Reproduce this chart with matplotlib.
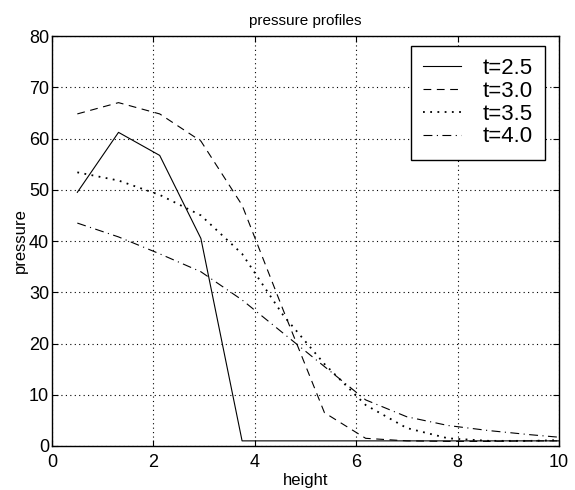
import matplotlib
matplotlib.use("Agg")
import matplotlib.pyplot as plt

plt.rcParams["font.family"] = ["Liberation Sans", "DejaVu Sans"]

# Sample heights and pressure values.
height = [0.5, 1.3125, 2.125, 2.9375, 3.75, 4.5625, 5.375, 6.1875,
          7.0, 7.8125, 8.625, 9.4375, 10.25]
p_t25 = [49.5, 61.2, 56.7, 40.5, 1.0, 1.0, 1.0, 1.0, 1.0, 1.0, 1.0, 1.0, 1.0]
p_t30 = [64.8, 67.0, 64.8, 59.5, 47.0, 26.5, 6.5, 1.5, 1.0, 0.9, 0.9, 1.0, 1.0]
p_t35 = [53.4, 51.8, 49.0, 45.0, 37.5, 25.5, 16.0, 8.0, 3.5, 1.5, 1.0, 1.0, 1.2]
p_t40 = [43.5, 40.8, 37.5, 34.0, 28.5, 22.0, 15.5, 9.0, 5.7, 4.0, 3.0, 2.2, 1.5]
labels = ["t=2.5", "t=3.0", "t=3.5", "t=4.0"]

fig = plt.figure(figsize=(5.75, 4.9), dpi=100)
ax = fig.add_axes([0.0904, 0.0898, 0.8816, 0.8367])

lw = 0.8
ax.plot(height, p_t25, color="black", linestyle="-", linewidth=lw, label=labels[0])
ax.plot(height, p_t30, color="black", linestyle=(0, (7, 5)), linewidth=lw, label=labels[1])
ax.plot(height, p_t35, color="black", linestyle=(0, (1, 3)), linewidth=1.3, label=labels[2])
ax.plot(height, p_t40, color="black", linestyle=(0, (8, 4, 1, 4)), linewidth=lw, label=labels[3])

ax.set_xlim(0, 10)
ax.set_ylim(0, 80)
ax.set_xticks(range(0, 11, 2))
ax.set_yticks(range(0, 81, 10))
ax.tick_params(direction="in", top=True, right=True, labelsize=13, length=4)
ax.tick_params(axis="x", pad=6)
ax.tick_params(axis="y", pad=2)
ax.grid(True, color="black", linestyle=(0, (1, 3)), linewidth=0.8)
for spine in ax.spines.values():
    spine.set_linewidth(1.0)

ax.set_xlabel("height", fontsize=12, labelpad=1)
ax.set_ylabel("pressure", fontsize=12, labelpad=1)
ax.set_title("pressure profiles", fontsize=11, pad=8)

leg = ax.legend(loc="upper right", fontsize=16, frameon=True, fancybox=False,
                edgecolor="black", framealpha=1, handlelength=1.7,
                borderpad=0.55, labelspacing=0.08, handletextpad=1.0,
                borderaxespad=0, bbox_to_anchor=(0.9735, 0.976))
leg.get_frame().set_linewidth(1.0)

fig.savefig("out.png", dpi=100)
